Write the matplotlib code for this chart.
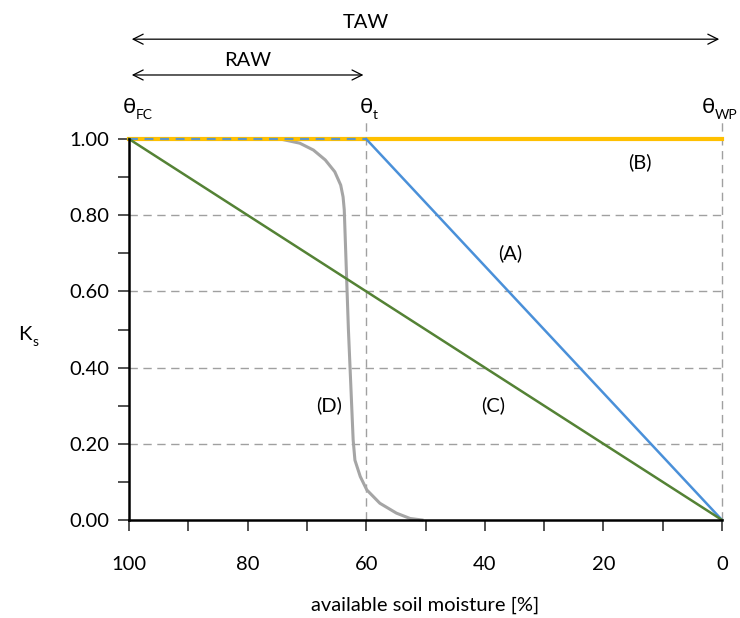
"""Water stress coefficient Ks versus available soil moisture."""

import numpy as np
import matplotlib.pyplot as plt
from matplotlib.ticker import MultipleLocator

plt.rcParams['font.family'] = ['Lato', 'DejaVu Sans']

# curves (available soil moisture [%] -> Ks)
a_x = [100, 60, 0]
a_y = [1.0, 1.0, 0.0]
b_x = [100, 0]
b_y = [1.0, 1.0]
c_x = [100, 0]
c_y = [1.0, 0.0]
d_x = [100, 74.5, 71.2, 68.9, 66.9, 65.3, 64.3, 63.9, 63.7, 63.0, 62.2,
       61.9, 61.0, 59.9, 57.7, 54.9, 52.6, 50.6]
d_y = [1.0, 1.0, 0.989, 0.971, 0.945, 0.914, 0.879, 0.848, 0.814, 0.5, 0.21,
       0.157, 0.114, 0.079, 0.044, 0.018, 0.004, 0.0]

# curve labels
labels = ['(A)', '(B)', '(C)', '(D)']
label_x = [35.7, 13.8, 38.6, 66.3]
label_y = [0.70, 0.94, 0.30, 0.30]

theta_fc, theta_t, theta_wp = 100, 60, 0
fs = 14.5

fig = plt.figure(figsize=(7.4, 6.18), dpi=100)
ax = fig.add_axes([129 / 740, 1 - 520 / 618, 593 / 740, 381 / 618])

# grid
for g in [0.2, 0.4, 0.6, 0.8]:
    ax.plot([100, 0], [g, g], color='#a0a0a0', lw=1, ls=(0, (6, 4)), zorder=1)
for v in [theta_t, theta_wp]:
    ax.plot([v, v], [0, 1.055], color='#a0a0a0', lw=1, ls=(0, (6, 4)),
            zorder=1, clip_on=False)

ax.plot(d_x, d_y, color='#a5a5a5', lw=2.2, zorder=2, clip_on=False)
ax.plot(b_x, b_y, color='#FFC000', lw=3, zorder=3, clip_on=False)
ax.plot(a_x[:2], a_y[:2], color='#5b95c5', lw=1.6, ls=(0, (4, 3)), zorder=4, clip_on=False)
ax.plot(a_x[1:], a_y[1:], color='#4a90d9', lw=1.8, zorder=4, clip_on=False)
ax.plot(c_x, c_y, color='#548235', lw=1.8, zorder=4, clip_on=False)

for t, x, y in zip(labels, label_x, label_y):
    ax.text(x, y, t, fontsize=fs, ha='center', va='center')

ax.set_xlim(100, 0)
ax.set_ylim(0, 1)
ax.xaxis.set_major_locator(MultipleLocator(20))
ax.xaxis.set_minor_locator(MultipleLocator(10))
ax.yaxis.set_major_locator(MultipleLocator(0.2))
ax.yaxis.set_minor_locator(MultipleLocator(0.1))
ax.yaxis.set_major_formatter(lambda v, p: f'{v:.2f}')
ax.xaxis.set_major_formatter(lambda v, p: f'{v:.0f}')
ax.tick_params(which='both', direction='out', length=8, width=1.2, color='#333333')
ax.tick_params(axis='x', which='major', pad=18, labelsize=fs)
ax.tick_params(axis='y', which='major', pad=6, labelsize=fs)
for s in ['top', 'right']:
    ax.spines[s].set_visible(False)
for s in ['left', 'bottom']:
    ax.spines[s].set_linewidth(1.8)
    ax.spines[s].set_zorder(5)

ax.set_xlabel('available soil moisture [%]', fontsize=fs, labelpad=17)
ax.annotate('K', (-0.175, 0.486), xycoords='axes fraction', fontsize=fs,
            ha='center', va='center')
ax.annotate('s', (-0.175, 0.486), xycoords='axes fraction', xytext=(5.5, -5),
            textcoords='offset points', fontsize=10, ha='left', va='center')

# theta markers
trans = ax.get_xaxis_transform()
for x, sub, dx in [(theta_fc, 'FC', 0), (theta_t, 't', 0), (theta_wp, 'WP', -10)]:
    ax.annotate('θ', (x, 1.084), xycoords=trans, xytext=(dx, 0),
                textcoords='offset points', fontsize=16, ha='center', va='center',
                annotation_clip=False)
    ax.annotate(sub, (x, 1.084), xycoords=trans, xytext=(dx + 5, -6),
                textcoords='offset points', fontsize=10, ha='left', va='center',
                annotation_clip=False)

# TAW / RAW arrows
ax.annotate('', xy=(theta_wp, 1.262), xytext=(theta_fc, 1.262), xycoords=trans,
            arrowprops=dict(arrowstyle='<->', lw=0.9, color='black',
                            mutation_scale=18), annotation_clip=False)
ax.text(60, 1.307, 'TAW', transform=trans, fontsize=fs, ha='center', va='center')
ax.annotate('', xy=(theta_t, 1.168), xytext=(theta_fc, 1.168), xycoords=trans,
            arrowprops=dict(arrowstyle='<->', lw=0.9, color='black',
                            mutation_scale=18), annotation_clip=False)
ax.text(80, 1.207, 'RAW', transform=trans, fontsize=fs, ha='center', va='center')

fig.savefig('out.png', dpi=100)
